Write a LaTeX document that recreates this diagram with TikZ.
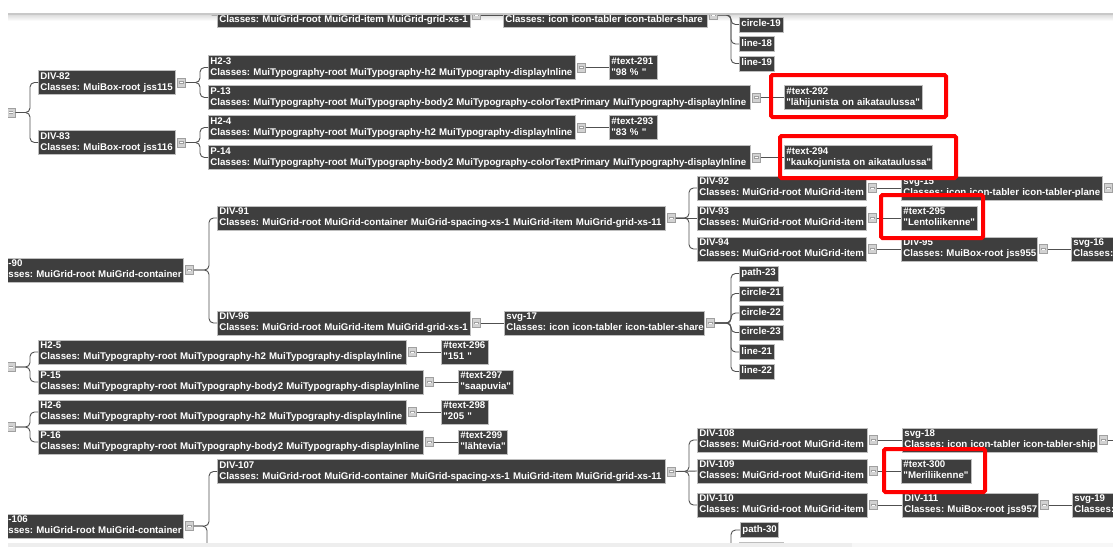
\documentclass[tikz,border=0pt]{standalone}
\usepackage{fontspec}
\setmainfont{Liberation Sans}[Ligatures=TeXOff]
\usetikzlibrary{calc}

\definecolor{boxfill}{RGB}{62,62,62}
\definecolor{boxedge}{RGB}{190,190,190}
\definecolor{wire}{RGB}{80,80,80}
\definecolor{btnfill}{RGB}{210,210,210}
\definecolor{btnedge}{RGB}{160,160,160}
\definecolor{hlred}{RGB}{255,0,0}
\definecolor{ruleline}{RGB}{200,200,200}

% two text rows / one text row with fixed strut heights
\newcommand\twol[2]{\mbox{\rule{0pt}{7pt}#1}\\\mbox{\rule[-2.3pt]{0pt}{2.3pt}#2}}
\newcommand\onel[1]{\mbox{\rule[-2.3pt]{0pt}{9.3pt}#1}}

% tree boxes: name, left x, centre y, width, content
\newcommand\boxtwo[5]{\pgfmathsetmacro\tbw{#4-4}\node[tbox, text width=\tbw pt] (#1) at (#2,#3) {\twol#5};}
\newcommand\boxone[5]{\pgfmathsetmacro\tbw{#4-4}\node[tbox, minimum height=15pt, text width=\tbw pt] (#1) at (#2,#3) {\onel{#5}};}
% collapse button right of a box
\newcommand\btnat[2]{\node[btn] (#1) at ([xshift=1pt]#2.east) {};}
% connectors
\newcommand\fork[2]{\draw[conn] (#1.east) -| ([xshift=-8pt]#2.west) -- (#2.west);}
\newcommand\wire[2]{\draw[conn] (#1.east) -- (#2.west);}

\tikzset{
  tbox/.style={rectangle, fill=boxfill, draw=boxedge, line width=0.8pt, text=white,
    font=\fontsize{9.68}{11}\selectfont\bfseries\frenchspacing, align=left, inner xsep=2pt, inner ysep=0pt,
    anchor=west, minimum height=24pt},
  btn/.style={rectangle, anchor=west, minimum width=8.5pt, minimum height=9pt, inner sep=0pt,
    fill=btnfill, draw=btnedge, line width=0.6pt,
    path picture={
      \draw[gray!75, line width=2.2pt] ([xshift=-2.2pt]path picture bounding box.center) -- ([xshift=2.2pt]path picture bounding box.center);
      \draw[white, line width=1pt] ([xshift=-1.8pt]path picture bounding box.center) -- ([xshift=1.8pt]path picture bounding box.center);}},
  conn/.style={draw=wire, line width=0.9pt, rounded corners=4.5pt},
  hl/.style={draw=hlred, line width=4pt, rounded corners=1.5pt}
}

\begin{document}
\begin{tikzpicture}[x=1pt, y=-1pt]
\useasboundingbox (0,0) rectangle (1113,547);
\fill[white] (0,0) rectangle (1113,547);
\shade[top color=gray!30, bottom color=white] (8,14) rectangle (1113,21);

\begin{scope}
\clip (8,14) rectangle (1113,543);

% ---- top strip
\boxtwo{gridtop}{217}{15}{253}{{}{Classes: MuiGrid-root MuiGrid-item MuiGrid-grid-xs-1}}
\btnat{bgridtop}{gridtop}
\boxtwo{svgtop}{503}{15}{204}{{}{Classes: icon icon-tabler icon-tabler-share}}
\btnat{bsvgtop}{svgtop}
\boxone{circle19}{739}{24.5}{44}{circle-19}
\boxone{line18}{739}{44}{35}{line-18}
\boxone{line19}{739}{63.5}{35}{line-19}
\coordinate (gridtopin) at (208,-30);

% ---- upper group
\node[btn] (bl1) at (6.5,112.5) {};
\boxtwo{div82}{38}{82.5}{137}{{DIV-82}{Classes: MuiBox-root jss115}}
\btnat{bdiv82}{div82}
\boxtwo{div83}{38}{142.5}{137}{{DIV-83}{Classes: MuiBox-root jss116}}
\btnat{bdiv83}{div83}
\boxtwo{h23}{208}{67.5}{367}{{H2-3}{Classes: MuiTypography-root MuiTypography-h2 MuiTypography-displayInline}}
\btnat{bh23}{h23}
\boxtwo{t291}{609}{67.5}{48}{{\#text-291}{"98 \% "}}
\boxtwo{p13}{208}{97.5}{542}{{P-13}{Classes: MuiTypography-root MuiTypography-body2 MuiTypography-colorTextPrimary MuiTypography-displayInline}}
\btnat{bp13}{p13}
\boxtwo{t292}{784}{97.5}{138}{{\#text-292}{"lähijunista on aikataulussa"}}
\boxtwo{h24}{208}{127.5}{367}{{H2-4}{Classes: MuiTypography-root MuiTypography-h2 MuiTypography-displayInline}}
\btnat{bh24}{h24}
\boxtwo{t293}{609}{127.5}{48}{{\#text-293}{"83 \% "}}
\boxtwo{p14}{208}{157.5}{542}{{P-14}{Classes: MuiTypography-root MuiTypography-body2 MuiTypography-colorTextPrimary MuiTypography-displayInline}}
\btnat{bp14}{p14}
\boxtwo{t294}{784}{157.5}{148}{{\#text-294}{"kaukojunista on aikataulussa"}}

% ---- DIV-90 group
\boxtwo{div90}{6}{270}{177}{{-90}{sses: MuiGrid-root MuiGrid-container}}
\btnat{bdiv90}{div90}
\boxtwo{div91}{217}{218}{448}{{DIV-91}{Classes: MuiGrid-root MuiGrid-container MuiGrid-spacing-xs-1 MuiGrid-item MuiGrid-grid-xs-11}}
\btnat{bdiv91}{div91}
\boxtwo{div92}{697}{188}{169}{{DIV-92}{Classes: MuiGrid-root MuiGrid-item}}
\btnat{bdiv92}{div92}
\boxtwo{svg15}{901}{188}{201}{{svg-15}{Classes: icon icon-tabler icon-tabler-plane}}
\btnat{bsvg15}{svg15}
\coordinate (svg15out) at (1130,188);
\boxtwo{div93}{697}{218}{169}{{DIV-93}{Classes: MuiGrid-root MuiGrid-item}}
\btnat{bdiv93}{div93}
\boxtwo{t295}{901}{218}{76}{{\#text-295}{"Lentoliikenne"}}
\boxtwo{div94}{697}{249}{169}{{DIV-94}{Classes: MuiGrid-root MuiGrid-item}}
\btnat{bdiv94}{div94}
\boxtwo{div95}{901}{249}{136}{{DIV-95}{Classes: MuiBox-root jss955}}
\btnat{bdiv95}{div95}
\boxtwo{svg16}{1071}{249}{120}{{svg-16}{Classes:}}
\boxtwo{div96}{217}{323}{253}{{DIV-96}{Classes: MuiGrid-root MuiGrid-item MuiGrid-grid-xs-1}}
\btnat{bdiv96}{div96}
\boxtwo{svg17}{504}{323}{200}{{svg-17}{Classes: icon icon-tabler icon-tabler-share}}
\btnat{bsvg17}{svg17}
\boxone{path23}{739}{273.5}{39}{path-23}
\boxone{circle21}{739}{293.5}{44}{circle-21}
\boxone{circle22}{739}{313}{44}{circle-22}
\boxone{circle23}{739}{332.5}{44}{circle-23}
\boxone{line21}{739}{352}{35}{line-21}
\boxone{line22}{739}{371.5}{35}{line-22}

% ---- lower text groups
\node[btn] (bl2) at (6.5,367) {};
\boxtwo{h25}{38}{352}{368}{{H2-5}{Classes: MuiTypography-root MuiTypography-h2 MuiTypography-displayInline}}
\btnat{bh25}{h25}
\boxtwo{t296}{441}{352}{47}{{\#text-296}{"151 "}}
\boxtwo{p15}{38}{382}{385}{{P-15}{Classes: MuiTypography-root MuiTypography-body2 MuiTypography-displayInline}}
\btnat{bp15}{p15}
\boxtwo{t297}{458}{382}{55}{{\#text-297}{"saapuvia"}}
\node[btn] (bl3) at (6.5,427) {};
\boxtwo{h26}{38}{412}{368}{{H2-6}{Classes: MuiTypography-root MuiTypography-h2 MuiTypography-displayInline}}
\btnat{bh26}{h26}
\boxtwo{t298}{441}{412}{47}{{\#text-298}{"205 "}}
\boxtwo{p16}{38}{442}{385}{{P-16}{Classes: MuiTypography-root MuiTypography-body2 MuiTypography-displayInline}}
\btnat{bp16}{p16}
\boxtwo{t299}{458}{442}{49}{{\#text-299}{"lähtevia"}}

% ---- DIV-106 group
\boxtwo{div106}{6}{526}{177}{{-106}{sses: MuiGrid-root MuiGrid-container}}
\btnat{bdiv106}{div106}
\coordinate (div106next) at (207,590);
\boxtwo{div107}{217}{471.5}{448}{{DIV-107}{Classes: MuiGrid-root MuiGrid-container MuiGrid-spacing-xs-1 MuiGrid-item MuiGrid-grid-xs-11}}
\btnat{bdiv107}{div107}
\boxtwo{div108}{697}{440}{170}{{DIV-108}{Classes: MuiGrid-root MuiGrid-item}}
\btnat{bdiv108}{div108}
\boxtwo{svg18}{902}{440}{195}{{svg-18}{Classes: icon icon-tabler icon-tabler-ship}}
\btnat{bsvg18}{svg18}
\coordinate (svg18out) at (1130,440);
\boxtwo{div109}{697}{471}{170}{{DIV-109}{Classes: MuiGrid-root MuiGrid-item}}
\btnat{bdiv109}{div109}
\boxtwo{t300}{901}{471}{70}{{\#text-300}{"Meriliikenne"}}
\boxtwo{div110}{697}{505}{170}{{DIV-110}{Classes: MuiGrid-root MuiGrid-item}}
\btnat{bdiv110}{div110}
\boxtwo{div111}{902}{505}{136}{{DIV-111}{Classes: MuiBox-root jss957}}
\btnat{bdiv111}{div111}
\boxtwo{svg19}{1072}{505}{120}{{svg-19}{Classes:}}
\boxone{path30}{740}{530}{38}{path-30}
\node[tbox, minimum height=15pt, minimum width=44pt] (circle28) at (739,549.5) {};
\coordinate (svg20fork) at (731,600);

% ---- connectors
\draw[conn] (gridtopin) |- (gridtop.west);
\wire{bgridtop}{svgtop}
\fork{bsvgtop}{circle19}
\fork{bsvgtop}{line18}
\fork{bsvgtop}{line19}

\fork{bl1}{div82}
\fork{bl1}{div83}
\fork{bdiv82}{h23}
\fork{bdiv82}{p13}
\fork{bdiv83}{h24}
\fork{bdiv83}{p14}
\wire{bh23}{t291}
\wire{bp13}{t292}
\wire{bh24}{t293}
\wire{bp14}{t294}

\fork{bdiv90}{div91}
\fork{bdiv90}{div96}
\fork{bdiv91}{div92}
\wire{bdiv91}{div93}
\fork{bdiv91}{div94}
\wire{bdiv92}{svg15}
\draw[conn] (bsvg15.east) -- (svg15out);
\wire{bdiv93}{t295}
\wire{bdiv94}{div95}
\wire{bdiv95}{svg16}
\wire{bdiv96}{svg17}
\fork{bsvg17}{path23}
\fork{bsvg17}{circle21}
\fork{bsvg17}{circle22}
\fork{bsvg17}{circle23}
\fork{bsvg17}{line21}
\fork{bsvg17}{line22}

\fork{bl2}{h25}
\fork{bl2}{p15}
\fork{bl3}{h26}
\fork{bl3}{p16}
\wire{bh25}{t296}
\wire{bp15}{t297}
\wire{bh26}{t298}
\wire{bp16}{t299}

\fork{bdiv106}{div107}
\draw[conn] (bdiv106.east) -| (div106next);
\fork{bdiv107}{div108}
\wire{bdiv107}{div109}
\fork{bdiv107}{div110}
\wire{bdiv108}{svg18}
\draw[conn] (bsvg18.east) -- (svg18out);
\wire{bdiv109}{t300}
\wire{bdiv110}{div111}
\wire{bdiv111}{svg19}
\draw[conn] (svg20fork) |- (path30.west);
\end{scope}

% view frame: header rule and scroll bar
\draw[ruleline, line width=1.2pt] (8,14) -- (1113,14);
\fill[gray!6] (8,543) rectangle (1113,547);
\fill[gray!13] (8,543) rectangle (852,547);

% red highlight frames
\draw[hl] (771,75) rectangle (946,117);
\draw[hl] (780,136) rectangle (956,178);
\draw[hl] (881,195) rectangle (983,238);
\draw[hl] (884,449) rectangle (985,492);
\end{tikzpicture}
\end{document}
